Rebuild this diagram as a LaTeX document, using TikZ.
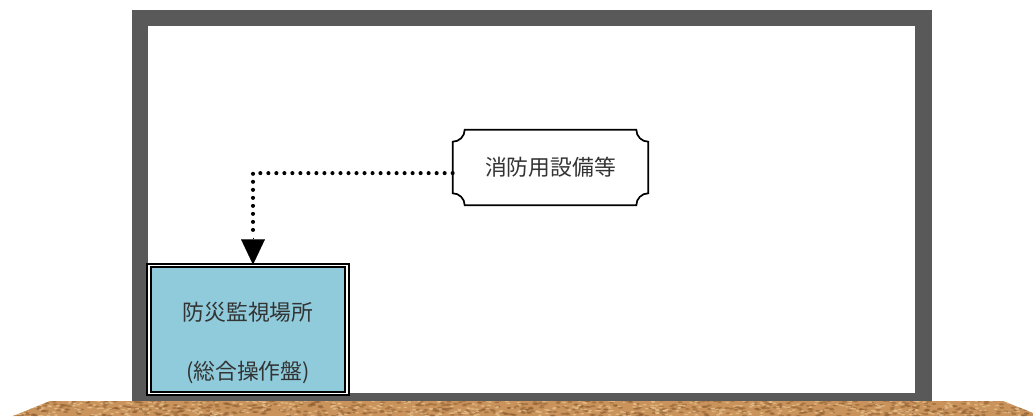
\documentclass[tikz,border=0pt]{standalone}
\usepackage{fontspec}
\newfontfamily\jpfont{Noto Sans CJK JP}
\usetikzlibrary{positioning,arrows.meta,calc}
\definecolor{wallgray}{HTML}{595959}
\definecolor{boxblue}{HTML}{8FCBDA}
\definecolor{soil}{HTML}{C9935B}
\definecolor{soildark}{HTML}{8E5E32}
\definecolor{soillight}{HTML}{E8C38F}

\begin{document}
\begin{tikzpicture}[x=0.025cm, y=0.025cm, >=Triangle,
    jp/.style={font=\jpfont\fontsize{15.5}{18}\selectfont, text=black!80},
    monbox/.style={draw=black, line width=1.3pt, double=white, double distance=1.3pt,
                   fill=boxblue, minimum width=4.95cm, minimum height=3.2cm, inner sep=0pt},
    plaque/.style={draw=black, line width=1.2pt, fill=white},
    dotline/.style={line width=2.9pt, line cap=round, dash pattern=on 0pt off 5.7pt}]

    \useasboundingbox (0,0) rectangle (1033,416);

    % ground
    \begin{scope}
      \clip (13,0) -- (50,15) -- (1003,15) -- (1033,3) -- (1033,0) -- cycle;
      \fill[soil] (0,0) rectangle (1033,16);
      \pgfmathsetseed{11}
      \foreach \i in {1,...,700} \fill[soildark, opacity=0.55] (rnd*1033, rnd*16) ellipse (2.5 and 1);
      \foreach \i in {1,...,500} \fill[soillight, opacity=0.7] (rnd*1033, rnd*16) ellipse (2 and 0.8);
    \end{scope}

    % building
    \fill[wallgray] (132,15) rectangle (932,406);
    \fill[white] (148,23) rectangle (915,390);

    \node[monbox] (mon) at (248,86.5) {};
    \node[jp, align=center] (montext) at ([yshift=-0.33cm]mon.center) {防災監視場所\\[24pt](総合操作盤)};

    \node[minimum width=4.875cm, minimum height=1.875cm, inner sep=0pt] (equip) at (550.5,248.5) {};
    \def\r{0.3cm}
    \draw[plaque] ([xshift=\r]equip.north west) -- ([xshift=-\r]equip.north east)
        arc[start angle=180, end angle=270, radius=\r] -- ([yshift=\r]equip.south east)
        arc[start angle=90, end angle=180, radius=\r] -- ([xshift=\r]equip.south west)
        arc[start angle=0, end angle=90, radius=\r] -- ([yshift=-\r]equip.north west)
        arc[start angle=270, end angle=360, radius=\r] -- cycle;
    \node[jp] (equiptext) at (equip.center) {消防用設備等};

    \coordinate (bend) at ([xshift=0.125cm, yshift=-0.14cm]mon.north |- equip.west);
    \draw[dotline] ([yshift=-0.14cm]equip.west) -- (bend) -- ([xshift=0.125cm, yshift=24pt]mon.north);
    \draw[-{Triangle[width=17pt,length=18pt]}, line width=0.1pt] ([xshift=0.125cm, yshift=19pt]mon.north) -- ([xshift=0.125cm]mon.north);
  \end{tikzpicture}
\end{document}
